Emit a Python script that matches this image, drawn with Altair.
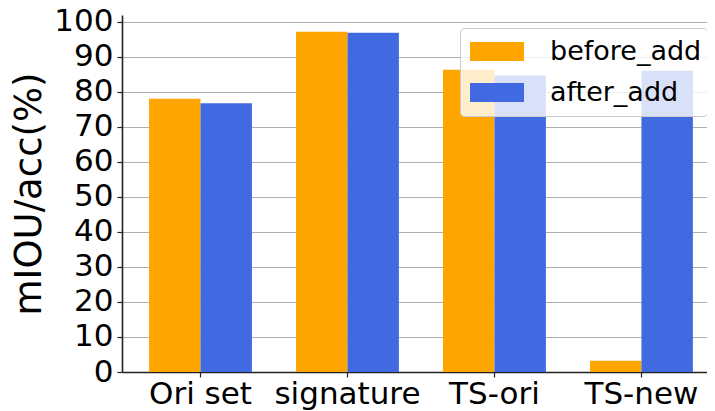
import altair as alt
import pandas as pd

categories = ["Ori set", "signature", "TS-ori", "TS-new"]
series = ["before_add", "after_add"]
before_add = [78.0, 97.1, 86.3, 3.2]
after_add = [76.7, 96.8, 84.6, 86.0]
colors = ["#FFA500", "#4169E1"]
y_ticks = list(range(0, 101, 10))

rows = []
for c, b, a in zip(categories, before_add, after_add):
    rows.append({"category": c, "series": "before_add", "value": b})
    rows.append({"category": c, "series": "after_add", "value": a})
df = pd.DataFrame(rows)

FONT = "DejaVu Sans"

chart = alt.Chart(df).mark_bar().encode(
    x=alt.X(
        "category:N",
        sort=categories,
        scale=alt.Scale(paddingInner=0.3, paddingOuter=0.14, align=0.657),
        axis=alt.Axis(
            title=None, labelAngle=0, labelFontSize=31, labelFont=FONT,
            labelColor="black", tickSize=5, tickColor="#222222", tickWidth=1.2,
            labelPadding=2, domainColor="#222222", domainWidth=1.6, grid=False,
        ),
    ),
    xOffset=alt.XOffset("series:N", sort=series,
                        scale=alt.Scale(paddingInner=0, paddingOuter=0)),
    y=alt.Y(
        "value:Q",
        scale=alt.Scale(domain=[0, 101.9], nice=False),
        axis=alt.Axis(
            values=y_ticks, title="mIOU/acc(%)", titleFontSize=37,
            titleFont=FONT, titleFontWeight="normal", titleColor="black",
            titlePadding=5, labelFontSize=31, labelFont=FONT, labelColor="black",
            tickSize=5, tickColor="#222222", tickWidth=1.2, labelPadding=4,
            domainColor="#222222", domainWidth=1.6, grid=True,
            gridColor="#b0b0b0", gridWidth=1,
        ),
    ),
    color=alt.Color(
        "series:N", sort=series,
        scale=alt.Scale(domain=series, range=colors),
        legend=alt.Legend(
            title=None, orient="none", legendX=338, legendY=13,
            fillColor="rgba(255,255,255,0.8)", strokeColor="#cccccc",
            cornerRadius=4, padding=5,
            symbolType="M-1,-0.352L1,-0.352L1,0.352L-1,0.352Z",
            symbolSize=2916, symbolStrokeWidth=0, symbolOpacity=1,
            clipHeight=37, rowPadding=4, symbolOffset=5, labelOffset=26,
            labelFontSize=27, labelFont=FONT, labelColor="black",
        ),
    ),
).properties(
    width=585, height=357,
    autosize=alt.AutoSizeParams(type="none"),
    padding={"left": 114, "top": 7, "right": 0, "bottom": 39},
).configure_view(stroke=None)

chart.save("out.html", embed_options={"renderer": "svg", "actions": False})
